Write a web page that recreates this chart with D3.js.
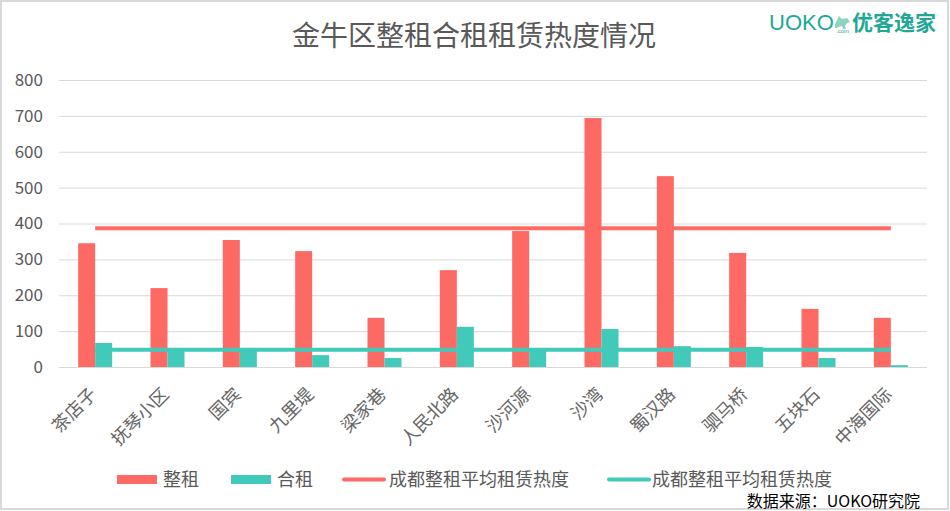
<!DOCTYPE html>
<html>
<head>
<meta charset="utf-8">
<script src="https://cdn.jsdelivr.net/npm/d3@7/dist/d3.min.js"></script>
<style>
  body { margin: 0; background: #fff; }
  svg { display: block; font-family: "Noto Sans CJK SC", "Noto Sans", sans-serif; }
</style>
</head>
<body>
<script>
// data
var categories = ["茶店子", "抚琴小区", "国宾", "九里堤", "梁家巷", "人民北路", "沙河源", "沙湾", "蜀汉路", "驷马桥", "五块石", "中海国际"];
var zhengzu = [345, 220, 354, 323, 137, 270, 379, 694, 532, 318, 162, 137];
var hezu = [67, 50, 50, 33, 25, 112, 48, 106, 58, 56, 25, 5];
var avgZheng = 387;
var avgHe = 48;
var yTicks = [0, 100, 200, 300, 400, 500, 600, 700, 800];
var legendLabels = ["整租", "合租", "成都整租平均租赁热度", "成都整租平均租赁热度"];

var width = 950,
    height = 511;

var red = "#fd6963",
    teal = "#41c9b9",
    grey = "#595959";

var svg = d3.select("body").append("svg")
    .attr("width", width)
    .attr("height", height);

// frame
svg.append("rect")
    .attr("x", 1).attr("y", 1)
    .attr("width", width - 3).attr("height", height - 3)
    .attr("fill", "#fff")
    .attr("stroke", "#d9d9d9")
    .attr("stroke-width", 2);

var x0 = d3.scaleBand().domain(categories).range([59, 927]);
var y = d3.scaleLinear().domain([0, 800]).range([367, 80]);
var barW = 17;

// gridlines
svg.append("g").selectAll("line")
    .data(yTicks)
  .enter().append("line")
    .attr("x1", 59).attr("x2", 927)
    .attr("y1", function(d) { return y(d) + 0.5; })
    .attr("y2", function(d) { return y(d) + 0.5; })
    .attr("stroke", "#d9d9d9")
    .attr("stroke-width", 1);

// y labels
svg.append("g").selectAll("text")
    .data(yTicks)
  .enter().append("text")
    .attr("x", 43)
    .attr("y", function(d) { return y(d); })
    .attr("dy", ".35em")
    .attr("text-anchor", "end")
    .attr("font-size", 17)
    .attr("fill", grey)
    .text(function(d) { return d; });

function cx(c) { return x0(c) + x0.bandwidth() / 2; }

// bars
var bars = svg.append("g");
bars.selectAll(".z")
    .data(zhengzu)
  .enter().append("rect")
    .attr("x", function(d, i) { return cx(categories[i]) - barW; })
    .attr("y", function(d) { return y(d); })
    .attr("width", barW)
    .attr("height", function(d) { return y(0) - y(d); })
    .attr("fill", red);
bars.selectAll(".h")
    .data(hezu)
  .enter().append("rect")
    .attr("x", function(d, i) { return cx(categories[i]); })
    .attr("y", function(d) { return y(d); })
    .attr("width", barW)
    .attr("height", function(d) { return y(0) - y(d); })
    .attr("fill", teal);

// average lines
var xa = cx(categories[0]), xb = cx(categories[categories.length - 1]);
[[avgZheng, red], [avgHe, teal]].forEach(function(p) {
  svg.append("line")
      .attr("x1", xa).attr("x2", xb)
      .attr("y1", y(p[0])).attr("y2", y(p[0]))
      .attr("stroke", p[1])
      .attr("stroke-width", 4);
});

// x labels
svg.append("g").selectAll("text")
    .data(categories)
  .enter().append("text")
    .attr("transform", function(d) { return "translate(" + (cx(d) - 2) + ",391) rotate(-45)"; })
    .attr("text-anchor", "end")
    .attr("dy", ".35em")
    .attr("font-size", 18)
    .attr("fill", "#666")
    .text(function(d) { return d; });

// title
svg.append("text")
    .attr("x", 474).attr("y", 46)
    .attr("text-anchor", "middle")
    .attr("font-size", 28)
    .attr("fill", grey)
    .text("金牛区整租合租租赁热度情况");

// logo
var logo = svg.append("g").attr("fill", "#1fa896");
logo.append("text")
    .attr("x", 769).attr("y", 30)
    .attr("font-family", "Liberation Sans, Arial, sans-serif")
    .attr("font-size", 22)
    .text("UOKO");
logo.append("text")
    .attr("x", 836).attr("y", 33)
    .attr("font-family", "Liberation Sans, Arial, sans-serif")
    .attr("font-size", 6)
    .text(".com");
logo.append("path")
    .attr("d", "M835,24 l4,-8 l3,3 l5,-1 l3,4 l-3,1 l-2,3 l1,3 l-3,0 l-1,-3 l-4,1 l-1,1 l-2,0 z")
    .attr("fill", "#8fd3c0");
logo.append("text")
    .attr("x", 852).attr("y", 30)
    .attr("font-size", 21)
    .attr("font-weight", "bold")
    .text("优客逸家");

// legend
var leg = svg.append("g");
var legX = [117, 231, 342, 607],
    legTextX = [163, 277, 389, 652];
legendLabels.forEach(function(t, i) {
  var col = (i % 2 === 0) ? red : teal;
  if (i < 2) {
    leg.append("rect")
        .attr("x", legX[i]).attr("y", 475)
        .attr("width", 40).attr("height", 9)
        .attr("fill", col);
  } else {
    leg.append("line")
        .attr("x1", legX[i] + 2).attr("x2", legX[i] + 42)
        .attr("y1", 479.5).attr("y2", 479.5)
        .attr("stroke", col)
        .attr("stroke-width", 4)
        .attr("stroke-linecap", "round");
  }
  leg.append("text")
      .attr("x", legTextX[i]).attr("y", 480)
      .attr("dy", ".35em")
      .attr("font-size", 18)
      .attr("fill", grey)
      .text(t);
});

// source
svg.append("text")
    .attr("x", 920).attr("y", 507)
    .attr("text-anchor", "end")
    .attr("font-size", 16)
    .attr("fill", "#000")
    .text("数据来源：UOKO研究院");
</script>
</body>
</html>
